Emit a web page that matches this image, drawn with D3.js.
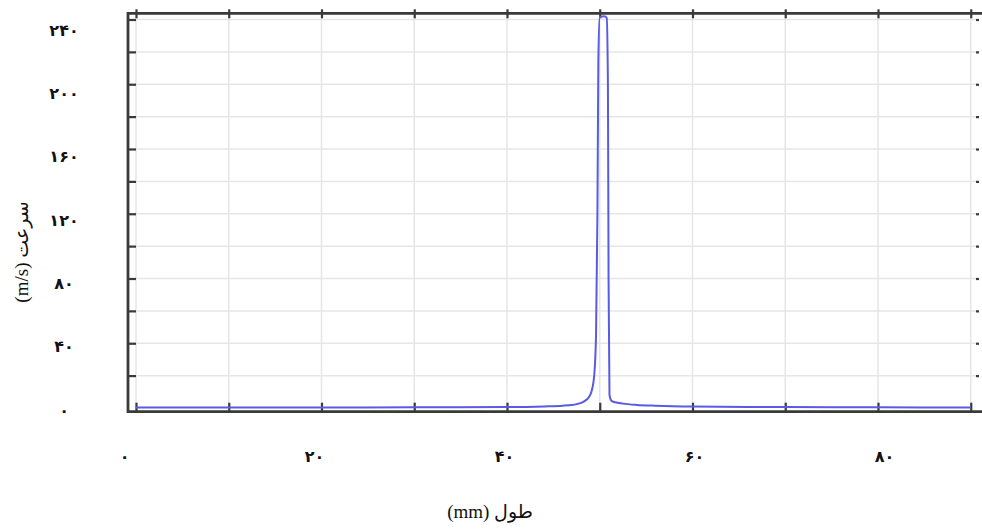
<!DOCTYPE html>
<html>
<head>
<meta charset="utf-8">
<script src="https://cdn.jsdelivr.net/npm/d3@7"></script>
<style>
    body { margin: 0; background: #fff; }
    svg { display: block; }
</style>
</head>
<body>
<div class="chart__container"></div>
<script>
/*---------------------------Data---------------------------*/

// length along the channel (mm) and velocity (m/s)
const lengthMm = [0, 10, 20, 30, 40, 44, 46, 47, 47.5, 48, 48.4, 48.8, 49.1, 49.4, 49.6, 49.75, 49.85, 50.0, 50.5, 50.75, 50.88, 50.95, 51.05, 51.3, 51.8, 52.5, 54, 56, 60, 70, 80, 90];
const velocity = [0.3, 0.3, 0.3, 0.4, 0.6, 1.0, 1.4, 1.9, 2.4, 3.2, 4.4, 6.5, 10, 20, 45, 120, 215, 241.5, 242, 241, 200, 80, 8, 4.2, 3.4, 2.7, 1.9, 1.4, 0.9, 0.6, 0.4, 0.3];

const xTicks = [0, 10, 20, 30, 40, 50, 60, 70, 80, 90];
const yTicks = [0, 20, 40, 60, 80, 100, 120, 140, 160, 180, 200, 220, 240];
const xLabelValues = [0, 20, 40, 60, 80];
const yLabelValues = [0, 40, 80, 120, 160, 200, 240];

const X_TITLE = "طول (mm)";
const Y_TITLE = "سرعت (m/s)";

/*---------------------------Init---------------------------*/

const WIDTH = 982;
const HEIGHT = 529;
const FRAME = { left: 128, top: 13.3, right: 982, bottom: 411.7 };
const COLOR = {
    line: "#5a5ae4",
    frame: "#3a3a3a",
    grid: "#e6e6e6",
    text: "#111"
};
const FONT = "'Liberation Serif', 'DejaVu Serif', 'DejaVu Sans', serif";
const DIGIT_FONT = "'DejaVu Sans', sans-serif";

const toPersian = n => String(n).replace(/\d/g, d => "۰۱۲۳۴۵۶۷۸۹"[d]);

const xScale = d3.scaleLinear().domain([0, 90]).range([136, 970.75]);
const yScale = d3.scaleLinear().domain([0, 240]).range([408, 19.5]);

// the printed labels sit a little off the ticks in the source figure
const xLabelScale = d3.scaleLinear().domain([0, 80]).range([124, 884]);
const yLabelScale = d3.scaleLinear().domain([0, 240]).range([410, 30]);

/*---------------------------Chart---------------------------*/

const svg = d3.select(".chart__container").append("svg")
    .attr("width", WIDTH)
    .attr("height", HEIGHT);

//grid

const grid = svg.append("g").attr("class", "grid");

grid.selectAll(".vgrid")
    .data(xTicks)
    .enter()
    .append("line")
    .attr("class", "vgrid")
    .attr("x1", d => xScale(d))
    .attr("x2", d => xScale(d))
    .attr("y1", FRAME.top)
    .attr("y2", FRAME.bottom)
    .attr("stroke", COLOR.grid)
    .attr("stroke-width", 1.5);

grid.selectAll(".hgrid")
    .data(yTicks.filter(d => d > 0))
    .enter()
    .append("line")
    .attr("class", "hgrid")
    .attr("x1", FRAME.left)
    .attr("x2", 977)
    .attr("y1", d => yScale(d))
    .attr("y2", d => yScale(d))
    .attr("stroke", COLOR.grid)
    .attr("stroke-width", 1.5);

//tick marks on all four sides

const styleTicks = g => {
    g.select(".domain").remove();
    g.selectAll(".tick text").remove();
    g.selectAll(".tick line")
        .attr("stroke", COLOR.frame)
        .attr("stroke-width", 2.2);
};

svg.append("g")
    .attr("transform", `translate(0,${FRAME.top + 5})`)
    .call(d3.axisTop(xScale).tickValues(xTicks).tickSize(9))
    .call(styleTicks);

svg.append("g")
    .attr("transform", `translate(0,${FRAME.bottom})`)
    .call(d3.axisBottom(xScale).tickValues(xTicks).tickSize(-9))
    .call(styleTicks);

svg.append("g")
    .attr("transform", `translate(${FRAME.left},0)`)
    .call(d3.axisLeft(yScale).tickValues(yTicks.filter(d => d > 0)).tickSize(-8))
    .call(styleTicks);

svg.append("g")
    .attr("transform", `translate(976,0)`)
    .call(d3.axisRight(yScale).tickValues(yTicks.filter(d => d > 0)).tickSize(3))
    .call(styleTicks);

//frame (left, top, bottom; the figure has no right border)

const frame = svg.append("g").attr("class", "frame")
    .attr("stroke", COLOR.frame)
    .attr("stroke-width", 2.8)
    .attr("fill", "none");

frame.append("path")
    .attr("d", `M${FRAME.right},${FRAME.top}H${FRAME.left}V${FRAME.bottom}H${FRAME.right}`);

//velocity curve

const line = d3.line()
    .x((d, i) => xScale(lengthMm[i]))
    .y(d => yScale(d))
    .curve(d3.curveMonotoneX);

svg.append("path")
    .datum(velocity)
    .attr("d", line)
    .attr("fill", "none")
    .attr("stroke", COLOR.line)
    .attr("stroke-width", 2)
    .attr("stroke-linejoin", "round");

//tick labels (Persian digits)

const xLabels = svg.append("g")
    .attr("transform", "translate(0,451)")
    .call(d3.axisBottom(xLabelScale).tickValues(xLabelValues).tickSize(0).tickPadding(0).tickFormat(toPersian));
xLabels.select(".domain").remove();
xLabels.selectAll("text")
    .attr("font-family", DIGIT_FONT)
    .attr("font-weight", "bold")
    .attr("font-size", 16)
    .attr("fill", COLOR.text);

const yLabels = svg.append("g")
    .attr("transform", "translate(64,0)")
    .call(d3.axisLeft(yLabelScale).tickValues(yLabelValues).tickSize(0).tickPadding(0).tickFormat(toPersian));
yLabels.select(".domain").remove();
yLabels.selectAll("text")
    .attr("x", 0)
    .attr("text-anchor", "middle")
    .attr("font-family", DIGIT_FONT)
    .attr("font-weight", "bold")
    .attr("font-size", 16)
    .attr("fill", COLOR.text);

//axis titles

svg.append("text")
    .attr("x", 490)
    .attr("y", 518)
    .attr("text-anchor", "middle")
    .attr("direction", "rtl")
    .attr("font-family", FONT)
    .attr("font-size", 19)
    .attr("fill", COLOR.text)
    .text(X_TITLE);

svg.append("text")
    .attr("transform", "translate(28,252) rotate(-90)")
    .attr("text-anchor", "middle")
    .attr("direction", "rtl")
    .attr("font-family", FONT)
    .attr("font-size", 19)
    .attr("fill", COLOR.text)
    .text(Y_TITLE);
</script>
</body>
</html>
